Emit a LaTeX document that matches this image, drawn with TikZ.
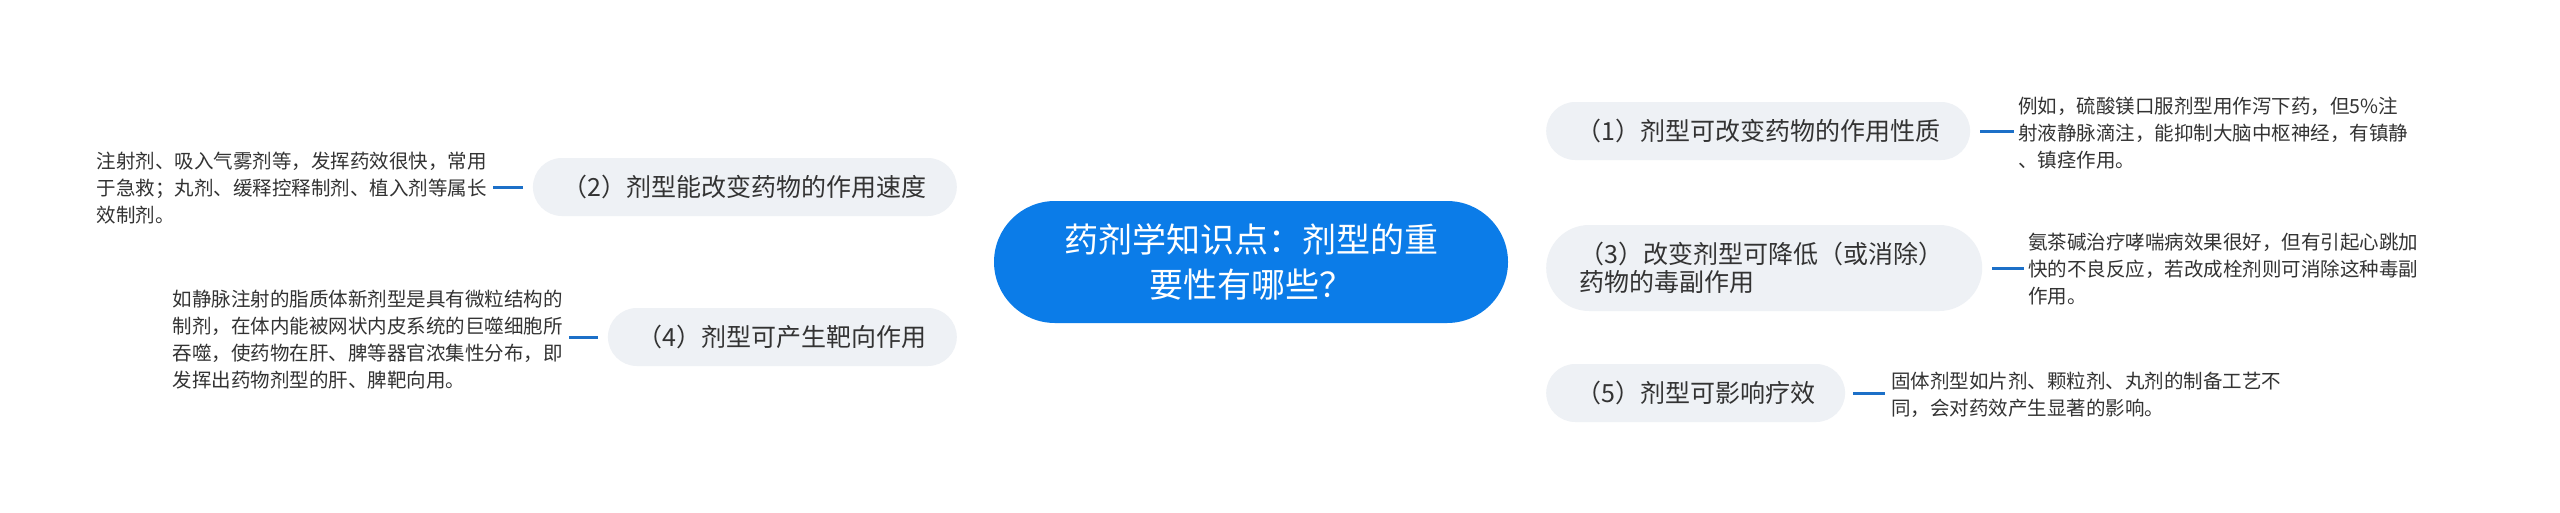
\documentclass[tikz,border=0pt]{standalone}
\usepackage{fontspec}
\setmainfont{Noto Sans CJK SC}
\usetikzlibrary{backgrounds,calc}
\definecolor{rootblue}{RGB}{11,124,232}
\definecolor{linkblue}{RGB}{28,112,200}
\definecolor{topicgray}{RGB}{238,241,245}
\definecolor{txt}{RGB}{51,51,51}
\tikzset{
  root/.style={fill=rootblue, text=white, rounded corners=61pt, minimum width=514pt, minimum height=122pt,
    inner sep=0pt, align=center, font=\fontsize{34}{45}\selectfont},
  topic/.style={fill=topicgray, text=txt, rounded corners=29pt, minimum height=58pt,
    inner xsep=30pt, inner ysep=0pt, font=\fontsize{25}{28}\selectfont},
  leaf/.style={text=txt, inner sep=0pt, align=left, font=\fontsize{19.5}{27}\selectfont},
  link/.style={draw=linkblue, line width=2pt},
  leaflink/.style={draw=linkblue, line width=3pt},
}
\begin{document}
\begin{tikzpicture}[x=1pt,y=-1pt]
\fill[white] (0,0) rectangle (2560,512);
\useasboundingbox (0,0) rectangle (2560,512);

\node[root] (c) at (1251,262) {药剂学知识点：剂型的重\\要性有哪些？};

\node[topic, anchor=west] (t1) at (1546,131) {（1）剂型可改变药物的作用性质};
\node[topic, anchor=west, rounded corners=43pt, minimum height=86pt, inner xsep=33pt, text width=370pt, align=left] (t3) at (1546,268) {（3）改变剂型可降低（或消除）\\药物的毒副作用};
\node[topic, anchor=west] (t5) at (1546,393) {（5）剂型可影响疗效};
\node[topic, anchor=east] (t2) at (957,187) {（2）剂型能改变药物的作用速度};
\node[topic, anchor=east] (t4) at (957,337) {（4）剂型可产生靶向作用};

\node[leaf, anchor=west] (l1) at (2018,133) {例如，硫酸镁口服剂型用作泻下药，但5\%注\\射液静脉滴注，能抑制大脑中枢神经，有镇静\\、镇痉作用。};
\node[leaf, anchor=west] (l3) at (2028,269) {氨茶碱治疗哮喘病效果很好，但有引起心跳加\\快的不良反应，若改成栓剂则可消除这种毒副\\作用。};
\node[leaf, anchor=west] (l5) at (1891,395) {固体剂型如片剂、颗粒剂、丸剂的制备工艺不\\同，会对药效产生显著的影响。};
\node[leaf, anchor=east] (l2) at (487,188) {注射剂、吸入气雾剂等，发挥药效很快，常用\\于急救；丸剂、缓释控释制剂、植入剂等属长\\效制剂。};
\node[leaf, anchor=east] (l4) at (563,340) {如静脉注射的脂质体新剂型是具有微粒结构的\\制剂，在体内能被网状内皮系统的巨噬细胞所\\吞噬，使药物在肝、脾等器官浓集性分布，即\\发挥出药物剂型的肝、脾靶向用。};

\begin{scope}[on background layer]
\draw[link] ($(c.north)+(21,4)$) .. controls ($(c.north)+(49,-51)$) and ($(t1.west)+(-160,0)$) .. (t1.west);
\draw[link] ($(c.south)+(21,-4)$) .. controls ($(c.south)+(49,51)$) and ($(t5.west)+(-160,0)$) .. (t5.west);
\draw[link] (c.east |- t3.west) -- (t3.west);
\draw[link] (t2.east) .. controls ($(t2.east)+(103,0)$) and ($(c.north)+(-131,-8)$) .. ($(c.north)+(-86,5)$);
\draw[link] (t4.east) .. controls ($(t4.east)+(103,0)$) and ($(c.south)+(-131,8)$) .. ($(c.south)+(-86,-5)$);
\end{scope}

\draw[leaflink, shorten <=10pt, shorten >=4pt] (t1.east) -- (t1.east -| l1.west);
\draw[leaflink, shorten <=10pt, shorten >=4pt] (t3.east) -- (t3.east -| l3.west);
\draw[leaflink, shorten <=8pt, shorten >=6pt] (t5.east) -- (t5.east -| l5.west);
\draw[leaflink, shorten <=10pt, shorten >=6pt] (t2.west) -- (t2.west -| l2.east);
\draw[leaflink, shorten <=10pt, shorten >=6pt] (t4.west) -- (t4.west -| l4.east);
\end{tikzpicture}
\end{document}
